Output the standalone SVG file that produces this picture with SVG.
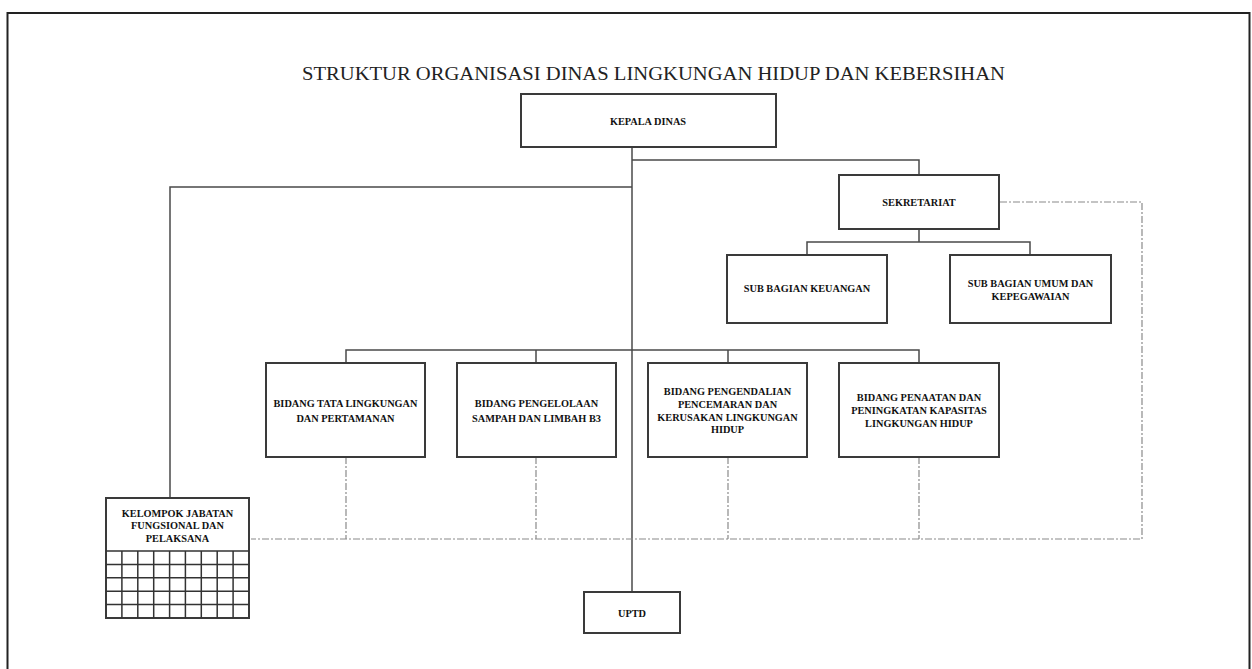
<svg xmlns="http://www.w3.org/2000/svg" width="1252" height="669" viewBox="0 0 1252 669">
<style>
.box{fill:#fff;stroke:#3a3a3a;stroke-width:2}
.lbl{font-family:"Liberation Serif","DejaVu Serif",serif;font-weight:bold;font-size:10.3px;fill:#111;text-anchor:middle}
.title{font-family:"Liberation Serif","DejaVu Serif",serif;font-size:18px;fill:#222}
.solid{fill:none;stroke:#4a4a4a;stroke-width:1.5}
.dash{fill:none;stroke:#8a8a8a;stroke-width:1.2;stroke-dasharray:7 2 2 2}
.grid{fill:none;stroke:#333;stroke-width:1.5}
</style>
<rect width="1252" height="669" fill="#fff"/>
<path d="M7.5,669 V13 H1249.5 V669" fill="none" stroke="#222" stroke-width="2"/>
<text class="title" x="302" y="79.5" textLength="703" lengthAdjust="spacingAndGlyphs">STRUKTUR ORGANISASI DINAS LINGKUNGAN HIDUP DAN KEBERSIHAN</text>

<g id="connectors">
<path class="solid" d="M632,147 V592"/>
<path class="solid" d="M632,160 H919 V175"/>
<path class="solid" d="M632,187 H170 V498"/>
<path class="solid" d="M919,229 V242 M807,255 V242 H1030 V255"/>
<path class="solid" d="M346,363 V350 H919 V363 M536,350 V363 M728,350 V363"/>
<path class="dash" d="M1000,202 H1142 V539 H251"/>
<path class="dash" d="M346,457 V539 M536,457 V539 M728,457 V539 M919,457 V539"/>
</g>

<g id="kepala-dinas">
<rect class="box" x="521" y="94" width="255" height="53"/>
<text class="lbl" x="648" y="125">KEPALA DINAS</text>
</g>

<g id="sekretariat">
<rect class="box" x="839" y="175" width="160" height="54"/>
<text class="lbl" x="919" y="206">SEKRETARIAT</text>
</g>

<g id="sub-keuangan">
<rect class="box" x="727" y="255" width="160" height="68"/>
<text class="lbl" x="807" y="292">SUB BAGIAN KEUANGAN</text>
</g>

<g id="sub-umum">
<rect class="box" x="950" y="255" width="161" height="68"/>
<text class="lbl" x="1030.5" y="287">SUB BAGIAN UMUM DAN</text>
<text class="lbl" x="1030.5" y="300">KEPEGAWAIAN</text>
</g>

<g id="bidang-tata">
<rect class="box" x="266" y="363" width="159" height="94"/>
<text class="lbl" x="345.5" y="407">BIDANG TATA LINGKUNGAN</text>
<text class="lbl" x="345.5" y="422">DAN PERTAMANAN</text>
</g>

<g id="bidang-sampah">
<rect class="box" x="457" y="363" width="159" height="94"/>
<text class="lbl" x="536.5" y="407">BIDANG PENGELOLAAN</text>
<text class="lbl" x="536.5" y="422">SAMPAH DAN LIMBAH B3</text>
</g>

<g id="bidang-pengendalian">
<rect class="box" x="648" y="363" width="159" height="94"/>
<text class="lbl" x="727.5" y="395">BIDANG PENGENDALIAN</text>
<text class="lbl" x="727.5" y="408">PENCEMARAN DAN</text>
<text class="lbl" x="727.5" y="420.5">KERUSAKAN LINGKUNGAN</text>
<text class="lbl" x="727.5" y="433">HIDUP</text>
</g>

<g id="bidang-penaatan">
<rect class="box" x="839" y="363" width="160" height="94"/>
<text class="lbl" x="919" y="401">BIDANG PENAATAN DAN</text>
<text class="lbl" x="919" y="414">PENINGKATAN KAPASITAS</text>
<text class="lbl" x="919" y="427">LINGKUNGAN HIDUP</text>
</g>

<g id="kelompok-jabatan">
<rect class="box" x="106" y="498" width="143" height="120"/>
<path class="grid" d="M106,551 H249 M106,564.4 H249 M106,577.8 H249 M106,591.2 H249 M106,604.6 H249 M121.9,551 V618 M137.8,551 V618 M153.7,551 V618 M169.6,551 V618 M185.4,551 V618 M201.3,551 V618 M217.2,551 V618 M233.1,551 V618"/>
<text class="lbl" x="177.5" y="516.5">KELOMPOK JABATAN</text>
<text class="lbl" x="177.5" y="529">FUNGSIONAL DAN</text>
<text class="lbl" x="177.5" y="542">PELAKSANA</text>
</g>

<g id="uptd">
<rect class="box" x="584" y="592" width="96" height="41"/>
<text class="lbl" x="632" y="616.5">UPTD</text>
</g>
</svg>
